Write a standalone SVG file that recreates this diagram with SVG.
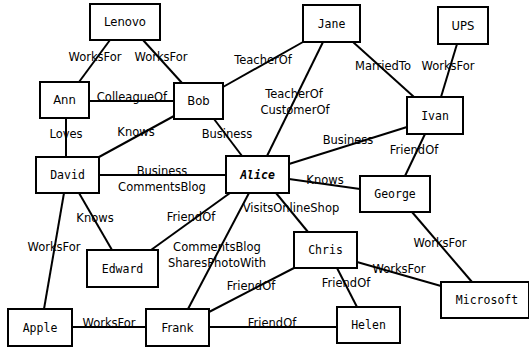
<svg xmlns="http://www.w3.org/2000/svg" width="529" height="350" viewBox="0 0 529 350">
<style>
rect{fill:#fff;stroke:#000;stroke-width:2}
line{stroke:#000;stroke-width:2}
.n{font-family:"DejaVu Sans Mono",monospace;font-size:11.5px;text-anchor:middle}
.p{font-family:"DejaVu Sans",sans-serif;font-size:11.6px;text-anchor:middle}
.a{font-weight:bold;font-style:italic}
.l{font-family:"DejaVu Sans",sans-serif;font-size:11.5px;text-anchor:middle;fill:#000}
</style>
<rect x="0" y="0" width="529" height="350" style="fill:#fff;stroke:none"/>
<g id="connectors">
<line x1="110" y1="40" x2="79" y2="82"/>
<line x1="143" y1="40" x2="182" y2="83"/>
<line x1="89" y1="101" x2="174" y2="101"/>
<line x1="223" y1="87" x2="303" y2="42"/>
<line x1="323" y1="42" x2="267" y2="156"/>
<line x1="353" y1="42" x2="414" y2="97"/>
<line x1="457" y1="44" x2="441" y2="97"/>
<line x1="66" y1="118" x2="66" y2="157"/>
<line x1="174" y1="116" x2="99" y2="157"/>
<line x1="214" y1="119" x2="242" y2="156"/>
<line x1="99" y1="175" x2="226" y2="175"/>
<line x1="407" y1="127" x2="289" y2="164"/>
<line x1="425" y1="134" x2="405" y2="176"/>
<line x1="289" y1="179" x2="360" y2="189"/>
<line x1="276" y1="193" x2="308" y2="232"/>
<line x1="249" y1="193" x2="188" y2="309"/>
<line x1="230" y1="193" x2="151" y2="250"/>
<line x1="79" y1="193" x2="112" y2="250"/>
<line x1="64" y1="193" x2="44" y2="309"/>
<line x1="72" y1="327" x2="146" y2="327"/>
<line x1="209" y1="312" x2="294" y2="268"/>
<line x1="209" y1="327" x2="337" y2="327"/>
<line x1="337" y1="268" x2="357" y2="307"/>
<line x1="357" y1="262" x2="441" y2="286"/>
<line x1="412" y1="212" x2="472" y2="282"/>
<text class="l" x="95" y="61">WorksFor</text>
<text class="l" x="161" y="61">WorksFor</text>
<text class="l" x="132" y="101">ColleagueOf</text>
<text class="l" x="263" y="64">TeacherOf</text>
<text class="l" x="383" y="70">MarriedTo</text>
<text class="l" x="448" y="70">WorksFor</text>
<text class="l" x="294" y="98">TeacherOf</text>
<text class="l" x="295" y="114">CustomerOf</text>
<text class="l" x="66" y="138">Loves</text>
<text class="l" x="136" y="136">Knows</text>
<text class="l" x="227" y="138">Business</text>
<text class="l" x="162" y="175">Business</text>
<text class="l" x="162" y="191">CommentsBlog</text>
<text class="l" x="348" y="144">Business</text>
<text class="l" x="414" y="154">FriendOf</text>
<text class="l" x="325" y="184">Knows</text>
<text class="l" x="291" y="212">VisitsOnlineShop</text>
<text class="l" x="191" y="221">FriendOf</text>
<text class="l" x="95" y="222">Knows</text>
<text class="l" x="217" y="251">CommentsBlog</text>
<text class="l" x="217" y="267">SharesPhotoWith</text>
<text class="l" x="54" y="251">WorksFor</text>
<text class="l" x="109" y="327">WorksFor</text>
<text class="l" x="251" y="290">FriendOf</text>
<text class="l" x="272" y="327">FriendOf</text>
<text class="l" x="346" y="287">FriendOf</text>
<text class="l" x="399" y="273">WorksFor</text>
<text class="l" x="440" y="247">WorksFor</text>
</g>
<g id="Lenovo"><rect x="90" y="4" width="70" height="36"/><text class="p" x="125" y="26">Lenovo</text></g>
<g id="Jane"><rect x="303" y="5" width="57" height="37"/><text class="n" x="331.5" y="27.5">Jane</text></g>
<g id="UPS"><rect x="438" y="7" width="50" height="37"/><text class="p" x="463" y="29.5">UPS</text></g>
<g id="Ann"><rect x="40" y="82" width="49" height="36"/><text class="p" x="64.5" y="104">Ann</text></g>
<g id="Bob"><rect x="174" y="83" width="49" height="36"/><text class="p" x="198.5" y="105">Bob</text></g>
<g id="Ivan"><rect x="407" y="97" width="56" height="37"/><text class="n" x="435" y="119.5">Ivan</text></g>
<g id="David"><rect x="36" y="157" width="63" height="36"/><text class="n" x="67.5" y="179">David</text></g>
<g id="Alice"><rect x="226" y="156" width="63" height="37"/><text class="n a" x="257.5" y="178.5">Alice</text></g>
<g id="George"><rect x="360" y="176" width="70" height="36"/><text class="n" x="395" y="198">George</text></g>
<g id="Edward"><rect x="87" y="250" width="71" height="37"/><text class="n" x="122.5" y="272.5">Edward</text></g>
<g id="Chris"><rect x="294" y="232" width="63" height="36"/><text class="n" x="325.5" y="254">Chris</text></g>
<g id="Microsoft"><rect x="441" y="282" width="88" height="36"/><text class="n" x="487" y="304">Microsoft</text></g>
<g id="Apple"><rect x="8" y="309" width="64" height="37"/><text class="n" x="40" y="331.5">Apple</text></g>
<g id="Frank"><rect x="146" y="309" width="63" height="37"/><text class="p" x="177.5" y="331.5">Frank</text></g>
<g id="Helen"><rect x="337" y="307" width="63" height="36"/><text class="n" x="368.5" y="329">Helen</text></g>
</svg>
